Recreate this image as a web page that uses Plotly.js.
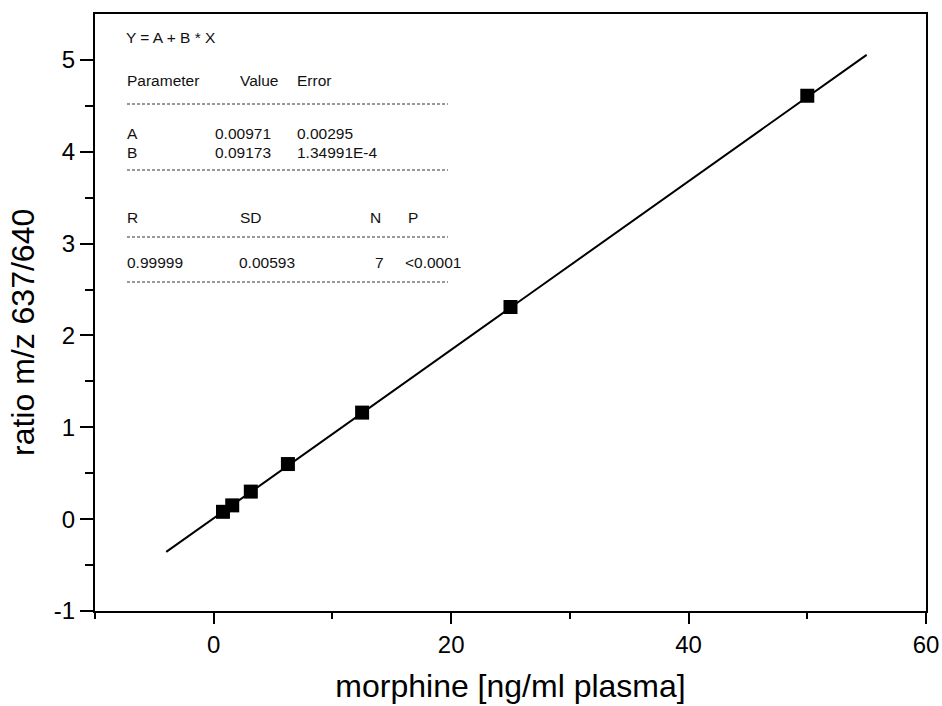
<!DOCTYPE html>
<html><head><meta charset="utf-8">
<script src="https://cdn.plot.ly/plotly-3.0.1.min.js"></script>
<style>html,body{margin:0;padding:0;background:#fff;}#chart{width:942px;height:706px;}</style>
</head><body><div id="chart"></div>
<script>
// Data
var concX = [0.78, 1.56, 3.125, 6.25, 12.5, 25, 50];
var ratioY = [0.08, 0.15, 0.30, 0.60, 1.16, 2.31, 4.61];
// Fit line endpoints (Y = A + B*X drawn from x=-4 to x=55)
var fitX = [-4, 55];
var fitY = [-0.357, 5.055];

var xTickVals = [0, 20, 40, 60];
var xTickText = ["0", "20", "40", "60"];
var yTickVals = [-1, 0, 1, 2, 3, 4, 5];
var yTickText = ["-1", "0", "1", "2", "3", "4", "5"];

var fitHeader = "Y = A + B * X";
var paramHeader = ["Parameter", "Value", "Error"];
var paramRows = [["A", "0.00971", "0.00295"], ["B", "0.09173", "1.34991E-4"]];
var statHeader = ["R", "SD", "N", "P"];
var statRow = ["0.99999", "0.00593", "7", "<0.0001"];

var L = 95, R = 926, T = 14, B = 611;
function px(x){ return (x - L) / (R - L); }
function py(y){ return (B - y) / (B - T); }

var font = "Liberation Sans, Arial, Helvetica, sans-serif";
var ann = [];
function txt(s, x, y){
  ann.push({text: s, xref: 'paper', yref: 'paper', x: px(x - 2), y: py(y),
    xanchor: 'left', yanchor: 'middle', showarrow: false,
    font: {family: font, size: 15.5, color: '#111'}});
}
txt(fitHeader, 126, 38);
var pCols = [127, 240, 297];
paramHeader.forEach(function(s, i){ txt(s, pCols[i], 80); });
var rCols = [127, 215, 297];
paramRows.forEach(function(row, j){ row.forEach(function(s, i){ txt(s, rCols[i], [133, 152][j]); }); });
var sCols = [127, 240, 370, 408];
statHeader.forEach(function(s, i){ txt(s, sCols[i], 217); });
var vCols = [127, 239, 375, 405];
statRow.forEach(function(s, i){ txt(s, vCols[i], 262); });

// y axis title as rotated annotation (sits slightly below plot centre in the reference)
ann.push({text: 'ratio m/z 637/640', xref: 'paper', yref: 'paper', x: px(23), y: py(333),
  xanchor: 'center', yanchor: 'middle', textangle: -90, showarrow: false,
  font: {family: font, size: 32, color: '#000'}});

var shapes = [104, 170, 237, 282].map(function(y){
  return {type: 'line', xref: 'paper', yref: 'paper', x0: px(127), x1: px(448), y0: py(y), y1: py(y),
    line: {color: '#333', width: 1, dash: '3px,2px'}};
});

var traces = [
  {x: fitX, y: fitY, mode: 'lines', line: {color: '#000', width: 2}, hoverinfo: 'skip'},
  {x: concX, y: ratioY, mode: 'markers', marker: {symbol: 'square', size: 14, color: '#000'}}
];

var axisCommon = {
  showline: true, linewidth: 2, linecolor: '#000', mirror: true,
  ticks: 'outside', tickwidth: 2, tickcolor: '#000',
  showgrid: false, zeroline: false,
  tickfont: {family: font, size: 24, color: '#000'}
};

var layout = {
  width: 942, height: 706,
  margin: {l: L, r: 942 - R, t: T, b: 706 - B},
  paper_bgcolor: '#fff', plot_bgcolor: '#fff',
  showlegend: false,
  xaxis: Object.assign({}, axisCommon, {
    range: [-10, 60], tickmode: 'array', tickvals: xTickVals, ticktext: xTickText, ticklen: 11,
    minor: {tickvals: [-10, 10, 30, 50], ticks: 'outside', ticklen: 6, tickwidth: 2, tickcolor: '#000'},
    title: {text: 'morphine [ng/ml plasma]', font: {family: font, size: 32, color: '#000'}, standoff: 18}
  }),
  yaxis: Object.assign({}, axisCommon, {
    range: [-1, 5.5], tickmode: 'array', tickvals: yTickVals, ticktext: yTickText, ticklen: 13,
    minor: {tickvals: [-0.5, 0.5, 1.5, 2.5, 3.5, 4.5], ticks: 'outside', ticklen: 8, tickwidth: 2, tickcolor: '#000'}
  }),
  annotations: ann,
  shapes: shapes
};

Plotly.newPlot('chart', traces, layout, {displayModeBar: false, staticPlot: true});
</script>
</body></html>
